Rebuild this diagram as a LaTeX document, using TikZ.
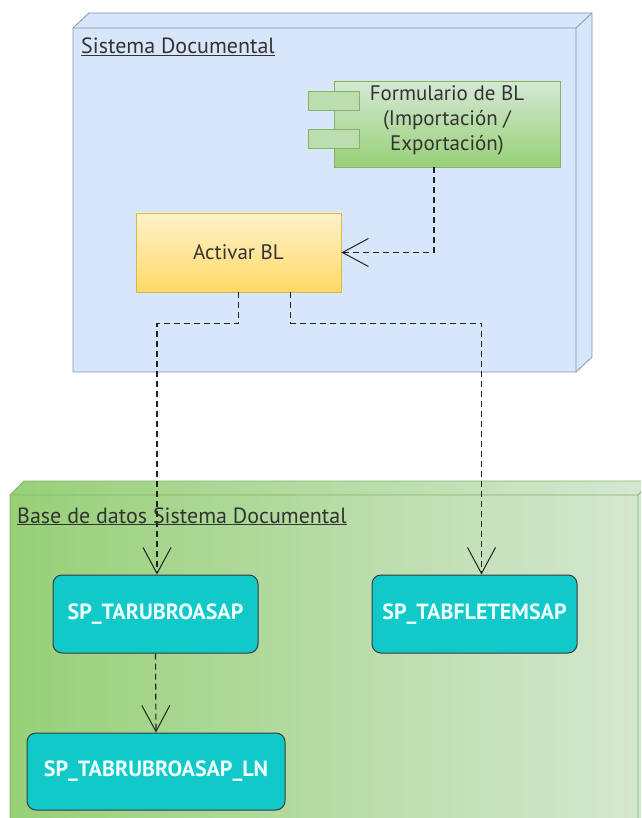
\documentclass[tikz,border=0pt]{standalone}
\usepackage{fontspec}
\setmainfont{PT Sans}
\usetikzlibrary{arrows.meta,positioning}
\definecolor{sysfill}{HTML}{D8E6FA}
\definecolor{sysline}{HTML}{8596B2}
\definecolor{formtop}{HTML}{D5E8D4}
\definecolor{formbot}{HTML}{97D077}
\definecolor{formline}{HTML}{82B366}
\definecolor{acttop}{HTML}{FFF2CC}
\definecolor{actbot}{HTML}{FFD966}
\definecolor{actline}{HTML}{D6B656}
\definecolor{dbleft}{HTML}{97D077}
\definecolor{dbright}{HTML}{D6E8D3}
\definecolor{spfill}{HTML}{12C9C9}
\definecolor{spline}{HTML}{36393D}
\definecolor{sptext}{HTML}{EFFFFF}
\definecolor{txt}{HTML}{333333}
\definecolor{lnk}{HTML}{222222}
\begin{document}
\begin{tikzpicture}[
    x=1pt, y=-1pt,
    font=\fontsize{21}{25}\selectfont,
    compbox/.style={draw=formline, top color=formtop, bottom color=formbot, minimum width=226pt, minimum height=86pt, line width=0.8pt},
    comptab/.style={draw=formline, fill=formtop!60!formbot, minimum width=51pt, minimum height=19pt, inner sep=0pt, line width=0.8pt},
    actbox/.style={draw=actline, top color=acttop, bottom color=actbot, minimum width=205pt, minimum height=79pt, text=txt, line width=0.8pt},
    spbox/.style={draw=spline, fill=spfill, rounded corners=9pt, minimum width=205pt, minimum height=78pt, text=sptext, font=\fontsize{22}{26}\selectfont\bfseries, line width=1pt},
    dep/.style={draw=lnk, line width=1.1pt, dash pattern=on 6pt off 4pt, -{Straight Barb[length=26pt,width=28pt,line width=1pt]}}
  ]
  \useasboundingbox (0,0) rectangle (641,818);
  \fill[white] (0,0) rectangle (641,818);
  \clip (0,0) rectangle (641,818);
  % Draw the two 3D node boxes.
  \filldraw[fill=sysfill, draw=sysline, line width=0.8pt] (73,28) -- (89,13) -- (592,13) -- (592,357) -- (576,372) -- (73,372) -- cycle;
  \draw[sysline, line width=0.8pt] (73,28) -- (576,28) -- (576,372) (576,28) -- (592,13);
  \shade[left color=dbleft, right color=dbright] (10,495) -- (24,481) -- (652,481) -- (652,830) -- (10,830) -- cycle;
  \draw[formline, line width=0.8pt] (10,830) -- (10,495) -- (24,481) -- (652,481) (10,495) -- (638,495) -- (638,830) (638,495) -- (652,481);
  \node[anchor=base west, text=txt, inner sep=0pt, font=\fontsize{22}{26}\selectfont] (syslbl) at (81,54) {\underline{Sistema Documental}};
  \node[anchor=base west, text=txt, inner sep=0pt, font=\fontsize{22}{26}\selectfont] (dblbl) at (17,523) {\underline{Base de datos Sistema Documental}};
  % Draw the components.
  \node[compbox] (form) at (447,124) {};
  \node[comptab] (tabup) at (333.5,100.5) {};
  \node[comptab] (tablow) at (333.5,138.5) {};
  \node[align=center, text=txt] (formtxt) at ([yshift=4pt]form.center) {Formulario de BL\\(Importación /\\Exportación)};
  \node[actbox] (act) at (238.5,252.5) {Activar BL};
  % Draw the stored procedures.
  \node[spbox] (tar) at (155.5,614) {SP\_TARUBROASAP};
  \node[spbox] (fle) at (474.5,614) {SP\_TABFLETEMSAP};
  \node[spbox, minimum width=258pt, minimum height=77pt] (ln) at (156,771.5) {SP\_TABRUBROASAP\_LN};
  % Draw the dependencies.
  \draw[dep] ([xshift=-13pt]form.south) |- (act.east);
  \draw[dep] (act.south) -- ++(0,31) -| ([xshift=1.5pt]tar.north);
  \draw[dep] ([xshift=52pt]act.south) -- ++(0,31) -| ([xshift=7pt]fle.north);
  \draw[dep] (tar.south) -- (ln.north);
\end{tikzpicture}
\end{document}
